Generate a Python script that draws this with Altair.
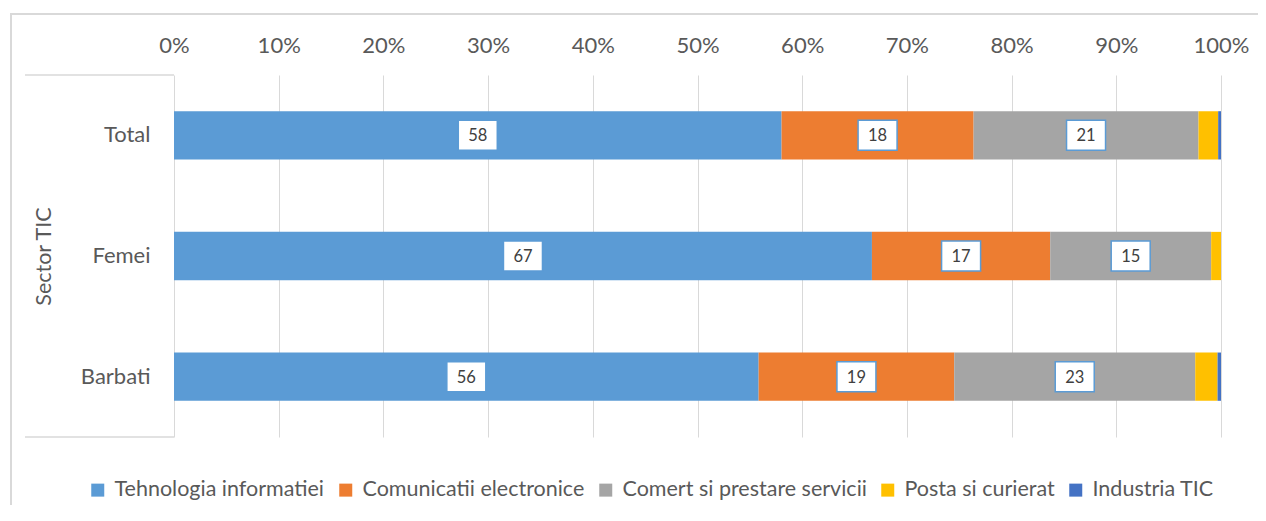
import altair as alt
import pandas as pd

# ---- data ----
categories = ["Total", "Femei", "Barbati"]
series = [
    "Tehnologia informatiei",
    "Comunicatii electronice",
    "Comert si prestare servicii",
    "Posta si curierat",
    "Industria TIC",
]
colors = ["#5B9BD5", "#ED7D31", "#A5A5A5", "#FFC000", "#4472C4"]

tehnologia = [58.03, 66.66, 55.84]
comunicatii = [18.34, 17.03, 18.68]
comert = [21.48, 15.37, 23.02]
posta = [1.88, 0.94, 2.13]
industria = [0.27, 0.0, 0.33]

tick_values = [0, 0.1, 0.2, 0.3, 0.4, 0.5, 0.6, 0.7, 0.8, 0.9, 1.0]

values = [tehnologia, comunicatii, comert, posta, industria]
rows = []
for ci, c in enumerate(categories):
    for si, s in enumerate(series):
        rows.append({"cat": c, "series": s, "order": si, "value": values[si][ci]})
df = pd.DataFrame(rows)

FONT = "Lato"
TXT = "#595959"
GRID = "#D9D9D9"

x_axis = alt.Axis(
    orient="top", format="%", values=tick_values, grid=True, gridColor=GRID,
    gridWidth=1, domain=False, ticks=False, tickSize=0, labelPadding=23,
    labelBaseline="alphabetic", labelFontSize=22, labelColor=TXT, labelFont=FONT,
    labelFontWeight="normal", labelFlush=False, title=None,
)
y_axis = alt.Axis(
    title="Sector TIC", domain=False, ticks=False, tickSize=0, grid=False,
    labelPadding=24, labelFontSize=22, labelColor=TXT, labelFont=FONT,
    labelFontWeight="normal",
    titleFont=FONT, titleFontSize=21.5, titleFontWeight="normal", titleColor=TXT,
    titleX=-124, titleY=181, titleAlign="center", titleBaseline="alphabetic",
)
x_scale = alt.Scale(domain=[0, 1], nice=False, zero=True)
y_scale = alt.Scale(paddingInner=0.6, paddingOuter=0.3)

base = (
    alt.Chart(df)
    .transform_stack(
        stack="value", groupby=["cat"], as_=["v0", "v1"], offset="normalize",
        sort=[alt.SortField("order", "ascending")],
    )
    .transform_calculate(mid="(datum.v0 + datum.v1) / 2")
)

bars = base.mark_bar().encode(
    x=alt.X("v0:Q", scale=x_scale, axis=x_axis),
    x2="v1:Q",
    y=alt.Y("cat:N", sort=categories, scale=y_scale, axis=y_axis),
    color=alt.Color(
        "series:N", sort=series,
        scale=alt.Scale(domain=series, range=colors),
        legend=alt.Legend(
            title=None, orient="none", legendX=-87, legendY=404,
            direction="horizontal", symbolType="square", symbolSize=169,
            symbolStrokeWidth=0, labelFontSize=21.5, labelColor=TXT, labelFont=FONT,
            labelFontWeight="normal",
            labelLimit=400, labelOffset=6, columnPadding=10,
        ),
    ),
)

labelled = base.transform_filter("datum.order < 3")

boxes = labelled.mark_point(
    shape="M-1.3,-1H1.3V1H-1.3Z", size=900, filled=True, fill="white",
    stroke="#5B9BD5", strokeWidth=1.5, opacity=1,
).encode(
    x=alt.X("mid:Q", scale=x_scale, axis=x_axis),
    y=alt.Y("cat:N", sort=categories, scale=y_scale, axis=y_axis),
)

texts = labelled.mark_text(
    font=FONT, fontSize=16.5, color="#404040", align="center", baseline="middle", dy=1,
).encode(
    x=alt.X("mid:Q", scale=x_scale, axis=x_axis),
    y=alt.Y("cat:N", sort=categories, scale=y_scale, axis=y_axis),
    text=alt.Text("value:Q", format=".0f"),
)

one = alt.Data(values=[{"k": 1}])
top_rule = alt.Chart(one).mark_rule(color=GRID, strokeWidth=1.5).encode(
    x=alt.value(-149), x2=alt.value(0), y=alt.value(0)
)
bottom_rule = alt.Chart(one).mark_rule(color=GRID, strokeWidth=1.5).encode(
    x=alt.value(-149), x2=alt.value(0), y=alt.value(362)
)
# outer chart border (top and left edges only, as in the reference)
frame_top = alt.Chart(one).mark_rect(fill=GRID, strokeWidth=0).encode(
    x=alt.value(-164), x2=alt.value(1100), y=alt.value(-62), y2=alt.value(-60)
)
frame_left = alt.Chart(one).mark_rect(fill=GRID, strokeWidth=0).encode(
    x=alt.value(-164), x2=alt.value(-162), y=alt.value(-62), y2=alt.value(440)
)

chart = (
    alt.layer(frame_top, frame_left, top_rule, bottom_rule, bars, boxes, texts)
    .properties(
        width=1047, height=362,
        padding={"left": 166, "top": 67, "right": 37, "bottom": 68},
        autosize=alt.AutoSizeParams(type="none"),
        background="white",
    )
    .configure_view(stroke=None)
)

chart.save("out.html", embed_options={"renderer": "svg", "actions": False})
